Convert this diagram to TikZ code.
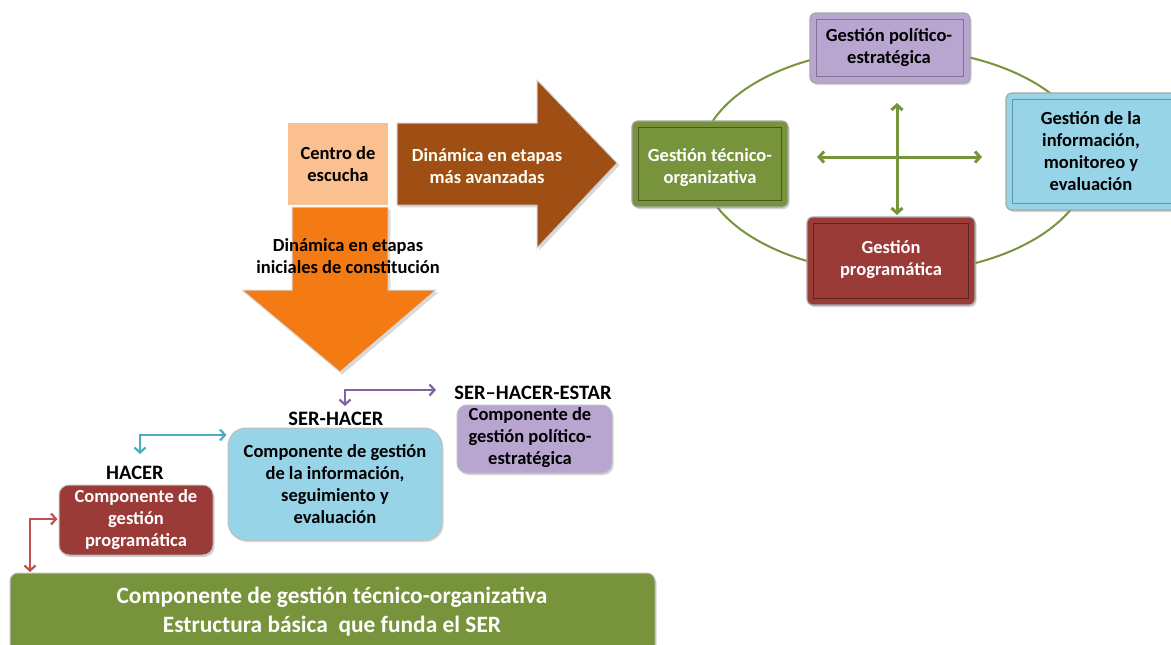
\documentclass[tikz,border=0pt]{standalone}
\usepackage{fontspec}
\setmainfont{Carlito}
\usetikzlibrary{arrows.meta,shadows}
\definecolor{ogreen}{HTML}{77933C}
\definecolor{ored}{HTML}{9B3B38}
\definecolor{oblue}{HTML}{98D4E8}
\definecolor{opurple}{HTML}{B8A6D0}
\definecolor{opeach}{HTML}{FAC090}
\definecolor{obrown}{HTML}{A04F14}
\definecolor{oorange}{HTML}{F47A14}
\definecolor{lblue}{HTML}{4BACC6}
\definecolor{lpurple}{HTML}{8064A2}
\definecolor{lred}{HTML}{C0504D}
\tikzset{
  txt/.style={font=\bfseries\fontsize{18.5}{22}\selectfont, align=center, inner sep=0pt},
  lbl/.style={font=\bfseries\fontsize{20.5}{22}\selectfont, inner sep=0pt},
  cbox/.style={draw=black!35, line width=1.2pt, rounded corners=6pt, inner sep=0pt,
    drop shadow={opacity=0.35, shadow xshift=1.5pt, shadow yshift=-2pt}},
  sbox/.style={draw=black!25, line width=1pt, inner sep=0pt,
    drop shadow={opacity=0.35, shadow xshift=1.5pt, shadow yshift=-2pt}},
  conn/.style={line width=2.2pt, {Straight Barb[length=5pt,width=11pt]}-{Straight Barb[length=5pt,width=11pt]}},
}
\begin{document}
\begin{tikzpicture}[x=1pt,y=-1pt]
\useasboundingbox (0,0) rectangle (1171,645);
\clip (0,0) rectangle (1171,645);

% ---- top-left arrows
\node[fill=opeach, minimum width=100pt, minimum height=82pt, inner sep=0pt] (centro) at (338,164) {};
\node[txt] at (338,164.5) {Centro de\\escucha};

\path[fill=obrown, draw=black!20, line width=1pt, drop shadow={opacity=0.3}]
  (397,123) -- (537,123) -- (537,80) -- (617,163) -- (537,248) -- (537,205) -- (397,205) -- cycle;
\node[txt, text=white!95!yellow] (avanz) at (487,166) {Dinámica en etapas\\más avanzadas};

\path[fill=oorange, draw=black!15, line width=1pt, drop shadow={opacity=0.3}]
  (292,207) -- (388,207) -- (388,290) -- (436,290) -- (340,372) -- (242,290) -- (292,290) -- cycle;
\node[txt] (inic) at (348,256.5) {Dinámica en etapas\\iniciales de constitución};

% ---- cycle
\draw[ogreen, line width=2pt] (895,161) ellipse [x radius=195, y radius=112];

\node[cbox, fill=opurple, minimum width=160pt, minimum height=70pt] (pol) at (890,48) {};
\draw[opurple!70!black, line width=0.8pt] (pol.north west) ++(7,7) rectangle ([xshift=-7pt,yshift=7pt]pol.south east);
\node[txt] at (889,48) {Gestión político-\\estratégica};

\node[cbox, fill=ogreen, minimum width=156pt, minimum height=86pt] (tec) at (710,164) {};
\draw[ogreen!60!black, line width=0.8pt] (tec.north west) ++(7,7) rectangle ([xshift=-7pt,yshift=7pt]tec.south east);
\node[txt, text=white] at (710,168) {Gestión técnico-\\organizativa};

\node[cbox, fill=oblue, minimum width=172pt, minimum height=117pt] (inf) at (1092,151.5) {};
\draw[oblue!70!black, line width=0.8pt] (inf.north west) ++(7,7) rectangle ([xshift=-7pt,yshift=7pt]inf.south east);
\node[txt] at (1091,151) {Gestión de la\\información,\\monitoreo y\\evaluación};

\node[cbox, fill=ored, minimum width=168pt, minimum height=88pt] (prog) at (891,261) {};
\draw[ored!60!black, line width=0.8pt] (prog.north west) ++(7,7) rectangle ([xshift=-7pt,yshift=7pt]prog.south east);
\node[txt, text=white] at (891,260) {Gestión\\programática};

\coordinate (cl) at (817,157); \coordinate (cr) at (982,157);
\coordinate (ct) at (897,103); \coordinate (cb) at (897,215);
\draw[conn, ogreen, line width=3pt] (cl) -- (cr);
\draw[conn, ogreen, line width=3pt] (ct) -- (cb);

% ---- bottom staircase
\node[sbox, fill=ogreen, rounded corners=8pt, minimum width=645pt, minimum height=100pt] (base) at (332.5,623) {};
\node[txt, text=white, font=\bfseries\fontsize{23.4}{29}\selectfont] at (332,611.5) {Componente de gestión técnico-organizativa\\Estructura básica\ \ que funda el SER};

\node[sbox, fill=ored, rounded corners=10pt, minimum width=154pt, minimum height=70pt] (hacer) at (136,520) {};
\node[txt, text=white] at (136,520) {Componente de\\gestión\\programática};
\node[lbl] (hacerl) at (135,473) {HACER};

\node[sbox, fill=oblue, rounded corners=18pt, minimum width=214pt, minimum height=112pt] (serh) at (335,484) {};
\node[txt] at (335,484.5) {Componente de gestión\\de la información,\\seguimiento y\\evaluación};
\node[lbl] (serhl) at (336,419) {SER-HACER};

\node[sbox, fill=opurple, rounded corners=10pt, minimum width=155pt, minimum height=68pt] (est) at (534.5,439) {};
\node[txt] at (530,438) {Componente de\\gestión político-\\estratégica};
\node[lbl] (estl) at (533,393) {SER–HACER-ESTAR};

\coordinate (r1) at (30,572);
\draw[conn, lred] (r1) |- ([xshift=-1pt]hacer.west |- 0,519);
\coordinate (b1) at (140,454);
\draw[conn, lblue] (b1) |- ([xshift=-1pt]serh.west |- 0,435);
\coordinate (p1) at (345,406); \coordinate (p2) at (436,390);
\draw[conn, lpurple] (p1) |- (p2);
\end{tikzpicture}
\end{document}
